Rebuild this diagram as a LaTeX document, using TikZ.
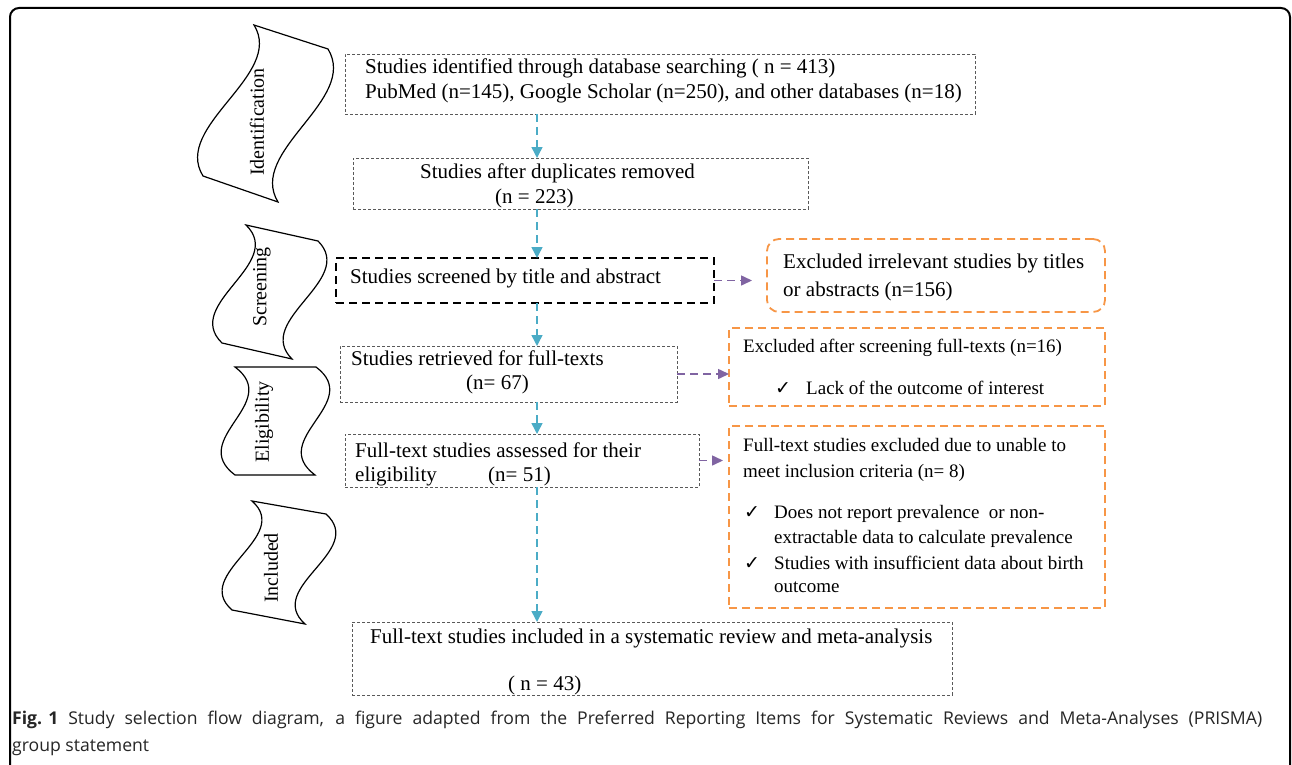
\documentclass[tikz,border=0pt]{standalone}
\usepackage{fontspec}
\setmainfont{Liberation Serif}
\newfontfamily\capfont{Open Sans}
\newfontfamily\symfont{DejaVu Sans}
\usetikzlibrary{arrows.meta}
\definecolor{cblue}{HTML}{4BACC6}
\definecolor{cpurple}{HTML}{8064A2}
\definecolor{corange}{HTML}{F79646}
\definecolor{cgray}{HTML}{595959}
\newcommand{\bigtxt}{\fontsize{21}{25}\selectfont}
\newcommand{\smtxt}{\fontsize{19}{23}\selectfont}
\newcommand{\ck}{{\symfont\fontsize{19}{19}\selectfont ✓}}
\tikzset{
  gbox/.style={draw=cgray, line width=0.9pt, dash pattern=on 3pt off 2pt, inner sep=0pt, outer sep=0pt},
  kbox/.style={draw=black, line width=1.4pt, dash pattern=on 8pt off 5pt, inner sep=0pt, outer sep=0pt},
  obox/.style={draw=corange, line width=1.8pt, dash pattern=on 8pt off 5pt, inner sep=0pt, outer sep=0pt},
  txt/.style={anchor=base west, inner sep=0pt, font=\bigtxt},
  stxt/.style={anchor=base west, inner sep=0pt, font=\smtxt},
  captxt/.style={anchor=base west, inner sep=0pt, font=\capfont\fontsize{17.6}{21}\selectfont, text=black!85},
  bannertxt/.style={rotate=90, inner sep=0pt, font=\fontsize{20}{24}\selectfont},
  banner/.style={draw=black, line width=1.2pt},
  barrow/.style={draw=cblue, line width=1.5pt, dash pattern=on 8pt off 5pt, -{Triangle[length=11pt,width=11pt]}},
  parrow/.style={draw=cpurple, line width=1.5pt, dash pattern=on 8pt off 5pt, -{Triangle[length=11pt,width=10pt]}},
}
\begin{document}
\begin{tikzpicture}[x=1pt,y=-1pt]
\useasboundingbox (0,0) rectangle (1292,765);
\fill[white] (0,0) rectangle (1292,765);
\begin{scope}
\clip (0,0) rectangle (1292,765);
\draw[line width=2pt, rounded corners=9pt] (10,790) -- (10,8) -- (1290,8) -- (1290,790);
\end{scope}

% banners
\draw[banner] (254,25) -- (328,49) .. controls (359,100) and (247,151) .. (278,202) -- (203,176) .. controls (172,126) and (285,75) .. cycle;
\node[bannertxt] (lid) at (257,122) {Identification};
\draw[banner] (246,225) -- (318,241) .. controls (357,280) and (253,320) .. (292,359) -- (222,343) .. controls (182,304) and (286,264) .. cycle;
\node[bannertxt] (lsc) at (262,287) {Screening};
\draw[banner] (235,367) -- (316,367) .. controls (364,403) and (267,439) .. (315,475) -- (235,475) .. controls (187,439) and (283,403) .. cycle;
\node[bannertxt] (lel) at (264,422) {Eligibility};
\draw[banner] (252,501) -- (326,514) .. controls (367,551) and (264,587) .. (305,624) -- (232,610) .. controls (191,574) and (293,537) .. cycle;
\node[bannertxt] (lin) at (271,568) {Included};

% boxes
\node[gbox, minimum width=630pt, minimum height=60pt] (b1) at (660,84) {};
\node[gbox, minimum width=455pt, minimum height=51pt] (b2) at (580.5,183.5) {};
\node[kbox, minimum width=378pt, minimum height=45pt] (b3) at (525,280.5) {};
\node[gbox, minimum width=337pt, minimum height=56pt] (b4) at (508.5,374) {};
\node[gbox, minimum width=354pt, minimum height=53pt] (b5) at (522,460.5) {};
\node[gbox, minimum width=600pt, minimum height=73pt] (b6) at (652,658.5) {};
\node[obox, rounded corners=12pt, minimum width=338pt, minimum height=73pt] (r1) at (936,275.5) {};
\node[obox, minimum width=376pt, minimum height=78pt] (r2) at (917,367) {};
\node[obox, minimum width=376pt, minimum height=182pt] (r3) at (917,517) {};

% texts
\node[txt] (t1a) at (365,74) {Studies identified through database searching ( n = 413)};
\node[txt] (t1b) at (365,99) {PubMed (n=145), Google Scholar (n=250), and other databases (n=18)};
\node[txt] (t2a) at (420,178) {Studies after duplicates removed};
\node[txt] (t2b) at (495,203) {(n = 223)};
\node[txt] (t3a) at (350,283) {Studies screened by title and abstract};
\node[txt] (t4a) at (351,365) {Studies retrieved for full-texts};
\node[txt] (t4b) at (466,389) {(n= 67)};
\node[txt] (t5a) at (355,457) {Full-text studies assessed for their};
\node[txt] (t5b) at (355,481) {eligibility};
\node[txt] (t5c) at (488,481) {(n= 51)};
\node[txt] (t6a) at (370,643) {Full-text studies included in a systematic review and meta-analysis};
\node[txt] (t6b) at (508,690) {( n = 43)};
\node[txt] (r1a) at (783,268) {Excluded irrelevant studies by titles};
\node[txt] (r1b) at (783,296) {or abstracts (n=156)};
\node[stxt] (r2a) at (743,352) {Excluded after screening full-texts (n=16)};
\node[stxt] (r2c) at (775,394) {\ck};
\node[stxt] (r2b) at (806,394) {Lack of the outcome of interest};
\node[stxt] (r3a) at (743,451) {Full-text studies excluded due to unable to};
\node[stxt] (r3b) at (743,477) {meet inclusion criteria (n= 8)};
\node[stxt] (r3c) at (744,518) {\ck};
\node[stxt] (r3d) at (774,518) {Does not report prevalence \ or non-};
\node[stxt] (r3e) at (774,543) {extractable data to calculate prevalence};
\node[stxt] (r3f) at (744,569) {\ck};
\node[stxt] (r3g) at (774,569) {Studies with insufficient data about birth};
\node[stxt] (r3h) at (774,592) {outcome};

% arrows
\coordinate (ax) at (537,0);
\draw[barrow] (b1.south -| ax) -- (b2.north -| ax);
\draw[barrow] (b2.south -| ax) -- (b3.north -| ax);
\draw[barrow] (b3.south -| ax) -- (b4.north -| ax);
\draw[barrow] (b4.south -| ax) -- (b5.north -| ax);
\draw[barrow] (b5.south -| ax) -- (b6.north -| ax);
\draw[parrow, shorten >=15pt] (b3.east) -- (b3.east -| r1.west);
\draw[parrow] (b4.east) -- (b4.east -| r2.west);
\draw[parrow, shorten >=6pt] (b5.east) -- (b5.east -| r3.west);

% caption
\node[captxt] (cap1) at (12,724) {\makebox[1250pt][s]{\textbf{\mbox{Fig. 1}} Study selection flow diagram, a figure adapted from the Preferred Reporting Items for Systematic Reviews and Meta-Analyses (PRISMA)}};
\node[captxt] (cap2) at (12,751) {group statement};
\end{tikzpicture}
\end{document}
